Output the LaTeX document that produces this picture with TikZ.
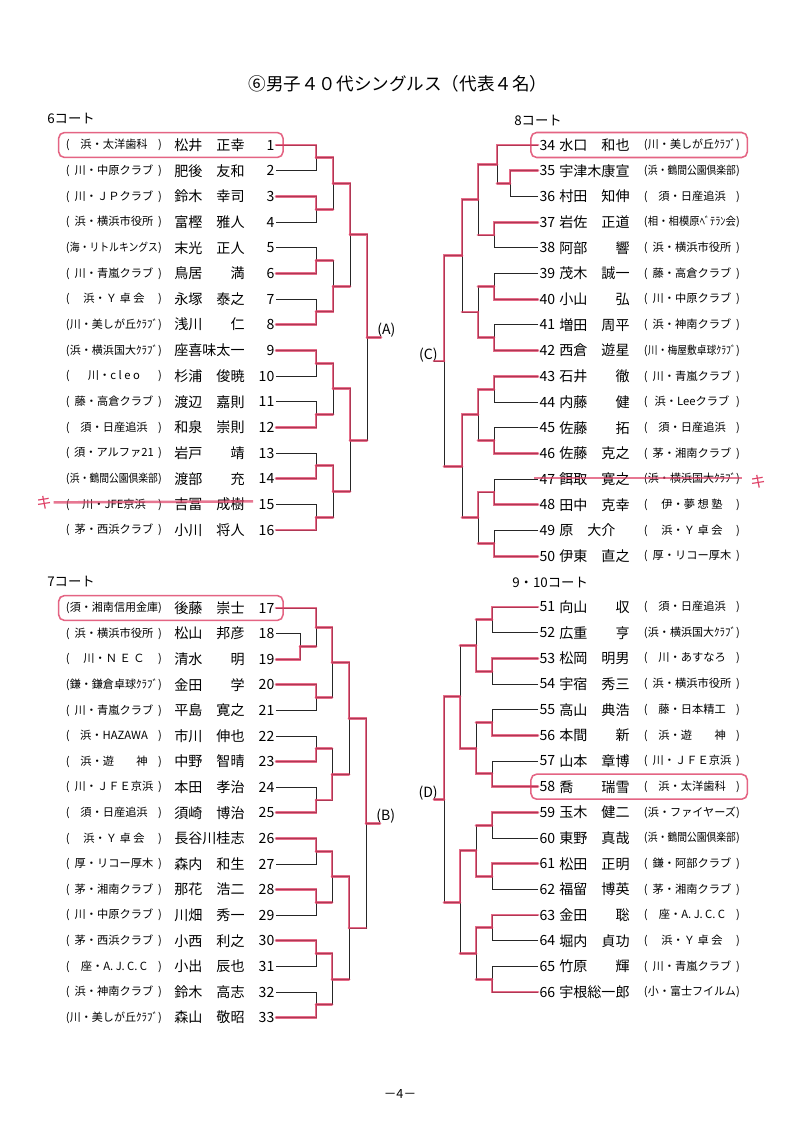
\documentclass[tikz,border=0pt]{standalone}
\usepackage{fontspec}
\setmainfont{Noto Sans CJK JP}
\usepackage{graphicx}
\usetikzlibrary{calc,fit,positioning}
\definecolor{winred}{RGB}{222,62,100}
\newlength\clubw
\setlength\clubw{2.4cm}
\newlength\clubin
\setlength\clubin{2.2cm}
\newsavebox\clubbox
% club name between brackets, squeezed when too long
\newcommand\clubtxt[1]{\sbox\clubbox{#1}%
  \makebox[\clubw]{(\hfill\ifdim\wd\clubbox>\clubin\resizebox{\clubin}{\height}{\usebox\clubbox}\else\usebox\clubbox\fi\hfill)}}
% one match: new coordinate, two entries, x of its vertical
\newcommand\bmatch[4]{%
  \coordinate (mid) at ($(#2)!.5!(#3)$);
  \coordinate (#1) at (#4,0 |- mid);
  \draw[tie] (#2) -| (#1);
  \draw[tie] (#3) -| (#1);
}
\tikzset{
  num/.style={inner sep=1pt, font=\fontsize{10}{12}\selectfont},
  pname/.style={inner sep=0pt, font=\fontsize{10}{12}\selectfont},
  club/.style={inner sep=0pt, font=\fontsize{8}{10}\selectfont},
  court/.style={anchor=west, inner sep=0pt, font=\fontsize{9.5}{11}\selectfont},
  lbl/.style={inner sep=0pt, font=\fontsize{10}{12}\selectfont},
  tie/.style={draw=black!85, line width=0.6pt},
  win/.style={draw=winred, line width=2pt, opacity=.75, line cap=round},
  winbox/.style={draw=winred, line width=1.1pt, rounded corners=4pt, opacity=.8, inner xsep=5pt, inner ysep=4pt},
  strike/.style={draw=winred, line width=1.8pt, opacity=.7}
}

\begin{document}
\begin{tikzpicture}[x=0.025cm, y=-0.025cm]
  \fill[white] (0,0) rectangle (800,1133);
  \useasboundingbox (0,0) rectangle (800,1133);

  \node[font=\fontsize{12.5}{15}\selectfont] (title) at (398,84) {⑥男子４０代シングルス（代表４名）};

  \node[court] (court6) at (47,119) {6コート};
  \node[court] (court8) at (514,121) {8コート};
  \node[court] (court7) at (47,582) {7コート};
  \node[court] (court910) at (512,583) {9・10コート};

  % court 6
  \foreach \n/\cl/\nm in {1/{浜・太洋歯科}/松井　正幸, 2/{川・中原クラブ}/肥後　友和,
      3/{川・ＪＰクラブ}/鈴木　幸司, 4/{浜・横浜市役所}/富樫　雅人,
      5/{海・リトルキングス}/末光　正人, 6/{川・青嵐クラブ}/鳥居　　満,
      7/{浜・Ｙ 卓 会}/永塚　泰之, 8/{川・美しが丘ｸﾗﾌﾞ}/浅川　　仁,
      9/{浜・横浜国大ｸﾗﾌﾞ}/座喜味太一, 10/{川・c l e o}/杉浦　俊暁,
      11/{藤・高倉クラブ}/渡辺　嘉則, 12/{須・日産追浜}/和泉　崇則,
      13/{須・アルファ21}/岩戸　　靖, 14/{浜・鶴間公園倶楽部}/渡部　　充,
      15/{川・JFE京浜}/吉冨　成樹, 16/{茅・西浜クラブ}/小川　将人} {
    \pgfmathsetmacro\y{145+25.67*(\n-1)}
    \node[num, anchor=east] (p\n) at (276,\y) {\n};
    \node[pname, anchor=west] (nm\n) at (174,\y) {\nm};
    \node[club] (club\n) at (114,\y) {\clubtxt{\cl}};
  }

  % court 7
  \foreach \n/\cl/\nm in {17/{須・湘南信用金庫}/後藤　崇士, 18/{浜・横浜市役所}/松山　邦彦,
      19/{川・Ｎ Ｅ Ｃ}/清水　　明, 20/{鎌・鎌倉卓球ｸﾗﾌﾞ}/金田　　学,
      21/{川・青嵐クラブ}/平島　寛之, 22/{浜・HAZAWA}/市川　伸也,
      23/{浜・遊　　神}/中野　智晴, 24/{川・ＪＦＥ京浜}/本田　孝治,
      25/{須・日産追浜}/須崎　博治, 26/{浜・Ｙ 卓 会}/長谷川桂志,
      27/{厚・リコー厚木}/森内　和生, 28/{茅・湘南クラブ}/那花　浩二,
      29/{川・中原クラブ}/川畑　秀一, 30/{茅・西浜クラブ}/小西　利之,
      31/{座・A. J. C. C}/小出　辰也, 32/{浜・神南クラブ}/鈴木　高志,
      33/{川・美しが丘ｸﾗﾌﾞ}/森山　敬昭} {
    \pgfmathsetmacro\y{608+25.6*(\n-17)}
    \node[num, anchor=east] (p\n) at (276,\y) {\n};
    \node[pname, anchor=west] (nm\n) at (174,\y) {\nm};
    \node[club] (club\n) at (114,\y) {\clubtxt{\cl}};
  }

  % court 8
  \foreach \n/\nm/\cl in {34/水口　和也/{川・美しが丘ｸﾗﾌﾞ}, 35/宇津木康宣/{浜・鶴間公園倶楽部},
      36/村田　知伸/{須・日産追浜}, 37/岩佐　正道/{相・相模原ﾍﾞﾃﾗﾝ会},
      38/阿部　　響/{浜・横浜市役所}, 39/茂木　誠一/{藤・高倉クラブ},
      40/小山　　弘/{川・中原クラブ}, 41/増田　周平/{浜・神南クラブ},
      42/西倉　遊星/{川・梅屋敷卓球ｸﾗﾌﾞ}, 43/石井　　徹/{川・青嵐クラブ},
      44/内藤　　健/{浜・Leeクラブ}, 45/佐藤　　拓/{須・日産追浜},
      46/佐藤　克之/{茅・湘南クラブ}, 47/餌取　寛之/{浜・横浜国大ｸﾗﾌﾞ},
      48/田中　克幸/{伊・夢 想 塾}, 49/原　大介/{浜・Ｙ 卓 会},
      50/伊東　直之/{厚・リコー厚木}} {
    \pgfmathsetmacro\y{145+25.7*(\n-34)}
    \node[num, anchor=west] (p\n) at (538,\y) {\n};
    \node[pname, anchor=west] (nm\n) at (559,\y) {\nm};
    \node[club] (club\n) at (692,\y) {\clubtxt{\cl}};
  }

  % court 9-10
  \foreach \n/\nm/\cl in {51/向山　　収/{須・日産追浜}, 52/広重　　亨/{浜・横浜国大ｸﾗﾌﾞ},
      53/松岡　明男/{川・あすなろ}, 54/宇宿　秀三/{浜・横浜市役所},
      55/高山　典浩/{藤・日本精工}, 56/本間　　新/{浜・遊　　神},
      57/山本　章博/{川・ＪＦＥ京浜}, 58/喬　　瑞雪/{浜・太洋歯科},
      59/玉木　健二/{浜・ファイヤーズ}, 60/東野　真哉/{浜・鶴間公園倶楽部},
      61/松田　正明/{鎌・阿部クラブ}, 62/福留　博英/{茅・湘南クラブ},
      63/金田　　聡/{座・A. J. C. C}, 64/堀内　貞功/{浜・Ｙ 卓 会},
      65/竹原　　輝/{川・青嵐クラブ}, 66/宇根総一郎/{小・富士フイルム}} {
    \pgfmathsetmacro\y{607+25.67*(\n-51)}
    \node[num, anchor=west] (p\n) at (538,\y) {\n};
    \node[pname, anchor=west] (nm\n) at (559,\y) {\nm};
    \node[club] (club\n) at (692,\y) {\clubtxt{\cl}};
  }

  % bracket (A)
  \foreach \m/\i/\j in {1/1/2,2/3/4,3/5/6,4/7/8,5/9/10,6/11/12,7/13/14,8/15/16}
    {\bmatch{a1\m}{p\i.east}{p\j.east}{316}}
  \foreach \m/\i/\j in {1/1/2,2/3/4,3/5/6,4/7/8}
    {\bmatch{a2\m}{a1\i}{a1\j}{333}}
  \bmatch{a31}{a21}{a22}{350}
  \bmatch{a32}{a23}{a24}{350}
  \bmatch{a4}{a31}{a32}{367}
  \coordinate (aout) at ($(a4)+(14,0)$);
  \draw[tie] (a4) -- (aout);
  \node[lbl, anchor=west] (labA) at ($(aout)+(-4,-7)$) {(A)};

  % bracket (B)
  \bmatch{b0}{p18.east}{p19.east}{300}
  \bmatch{b11}{p17.east}{b0}{316}
  \foreach \m/\i/\j in {2/20/21,3/22/23,4/24/25,5/26/27,6/28/29,7/30/31,8/32/33}
    {\bmatch{b1\m}{p\i.east}{p\j.east}{316}}
  \foreach \m/\i/\j in {1/1/2,2/3/4,3/5/6,4/7/8}
    {\bmatch{b2\m}{b1\i}{b1\j}{332}}
  \bmatch{b31}{b21}{b22}{349}
  \bmatch{b32}{b23}{b24}{349}
  \bmatch{b4}{b31}{b32}{366}
  \coordinate (bout) at ($(b4)+(14,0)$);
  \draw[tie] (b4) -- (bout);
  \node[lbl, anchor=west] (labB) at ($(bout)+(-4,-7)$) {(B)};

  % bracket (C)
  \bmatch{c0}{p35.west}{p36.west}{510}
  \bmatch{c11}{p34.west}{c0}{497}
  \foreach \m/\i/\j in {2/37/38,3/39/40,4/41/42,5/43/44,6/45/46,7/47/48,8/49/50}
    {\bmatch{c1\m}{p\i.west}{p\j.west}{494}}
  \foreach \m/\i/\j in {1/1/2,2/3/4,3/5/6,4/7/8}
    {\bmatch{c2\m}{c1\i}{c1\j}{478}}
  \bmatch{c31}{c21}{c22}{462}
  \bmatch{c32}{c23}{c24}{462}
  \bmatch{c4}{c31}{c32}{444}
  \coordinate (cout) at ($(c4)+(-10,0)$);
  \draw[tie] (c4) -- (cout);
  \node[lbl, anchor=east] (labC) at ($(cout)+(4,-6)$) {(C)};

  % bracket (D)
  \foreach \m/\i/\j in {1/51/52,2/53/54,3/55/56,4/57/58,5/59/60,6/61/62,7/63/64,8/65/66}
    {\bmatch{d1\m}{p\i.west}{p\j.west}{492}}
  \foreach \m/\i/\j in {1/1/2,2/3/4,3/5/6,4/7/8}
    {\bmatch{d2\m}{d1\i}{d1\j}{476}}
  \bmatch{d31}{d21}{d22}{460}
  \bmatch{d32}{d23}{d24}{460}
  \bmatch{d4}{d31}{d32}{444}
  \coordinate (dout) at ($(d4)+(-10,0)$);
  \draw[tie] (d4) -- (dout);
  \node[lbl, anchor=east] (labD) at ($(dout)+(4,-6)$) {(D)};

  % red marker: winners
  \foreach \w/\m in {p1.east/a11, p3.east/a12, p6.east/a13, p8.east/a14, p9.east/a15,
      p12.east/a16, p14.east/a17, p16.east/a18, a11/a21, a14/a22, a15/a23, a17/a24,
      a21/a31, a23/a32, a31/a4,
      p19.east/b0, p17.east/b11, p20.east/b12, p23.east/b13, p25.east/b14, p26.east/b15,
      p28.east/b16, p30.east/b17, p33.east/b18, b11/b21, b14/b22, b15/b23, b17/b24,
      b21/b31, b23/b32, b31/b4,
      p35.west/c0, p34.west/c11, p37.west/c12, p40.west/c13, p42.west/c14, p43.west/c15,
      p46.west/c16, p48.west/c17, p50.west/c18, c11/c21, c14/c22, c15/c23, c17/c24,
      c21/c31, c23/c32, c31/c4,
      p51.west/d11, p53.west/d12, p56.west/d13, p58.west/d14, p59.west/d15, p61.west/d16,
      p63.west/d17, p66.west/d18, d12/d21, d14/d22, d16/d23, d17/d24,
      d22/d31, d23/d32, d31/d4}
    {\draw[win] (\w) -| (\m);}
  \foreach \l/\m in {a12/a21, a13/a22, a16/a23, a18/a24, a22/a31, a24/a32, a32/a4,
      b0/b11, b12/b21, b13/b22, b16/b23, b18/b24, b22/b31, b24/b32, b32/b4,
      c0/c11, c12/c21, c13/c22, c16/c23, c18/c24, c22/c31, c24/c32, c32/c4,
      d11/d21, d13/d22, d15/d23, d18/d24, d21/d31, d24/d32, d32/d4}
    {\draw[win] (\l) -- (\l -| \m);}
  \draw[win] (a4) -- (aout);
  \draw[win] (b4) -- (bout);
  \draw[win] (c4) -- (cout);
  \draw[win] (d4) -- (dout);

  % representatives
  \node[winbox, fit=(club1)(nm1)(p1)] (boxA) {};
  \node[winbox, fit=(club17)(nm17)(p17)] (boxB) {};
  \node[winbox, fit=(p34)(nm34)(club34)] (boxC) {};
  \node[winbox, fit=(p58)(nm58)(club58)] (boxD) {};

  % withdrawn
  \draw[strike] ($(club15.west)+(-12,-2)$) -- ($(p15.west)+(-4,-3)$);
  \node[text=winred, font=\fontsize{11}{13}\selectfont] (kiA) at (44,503) {キ};
  \draw[strike] ($(p47.west)+(-4,-1)$) -- ($(club47.east)+(2,-1)$);
  \node[text=winred, font=\fontsize{11}{13}\selectfont] (kiC) at (758,482) {キ};

  \node[font=\fontsize{9}{11}\selectfont] (pageno) at (400,1094) {－4－};
\end{tikzpicture}
\end{document}
